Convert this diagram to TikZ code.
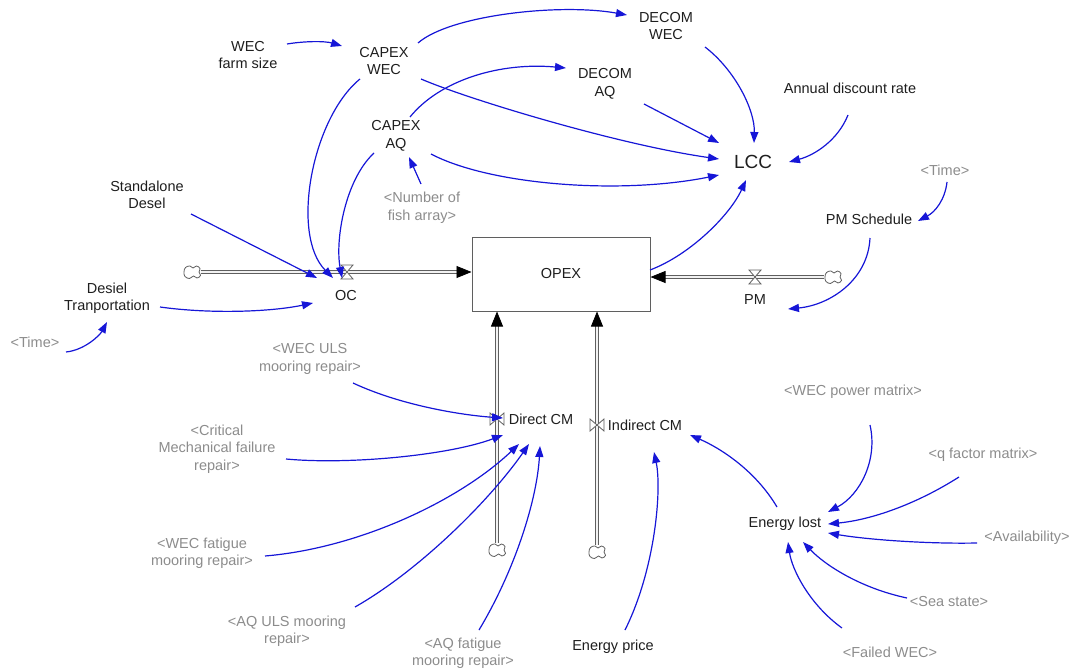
\documentclass[tikz,border=0pt]{standalone}
\usepackage{fontspec}
\setmainfont{Liberation Sans}
\usetikzlibrary{arrows.meta}
\definecolor{linkblue}{RGB}{22,22,215}
\definecolor{vartext}{RGB}{30,30,30}
\definecolor{shadowtext}{RGB}{140,140,140}
\definecolor{pipegray}{RGB}{95,95,95}
\begin{document}
\begin{tikzpicture}[x=1pt,y=-1pt,
  every node/.style={inner sep=0pt,font=\fontsize{14.5}{17.5}\selectfont,align=center},
  var/.style={text=vartext},
  shadow/.style={text=shadowtext},
  link/.style={draw=linkblue,line width=1.2pt,-{Triangle[length=11pt,width=8pt]}},
  pipe/.style={draw=pipegray,line width=0.8pt,double=gray!10,double distance=2.6pt},
  pipetip/.style={-{Triangle[length=15pt,width=12pt,color=black,fill=black]}},
  stockbox/.style={draw=pipegray,line width=1pt,minimum width=178pt,minimum height=74pt,text=vartext},
  source/.style={minimum width=17pt,minimum height=13pt},
  cloudmark/.pic={\draw[pipegray,line width=0.8pt,fill=white] plot[smooth cycle,tension=0.7] coordinates
     {(-8,0) (-6.5,-4.5) (-2,-6) (1,-4) (4.5,-6) (8,-3.5) (7,0) (8.5,3.5) (5,6) (1.5,4) (-2.5,6.5) (-7,4.5)};},
  valvehg/.pic={\draw[pipegray,line width=0.8pt,fill=white] (-6,-7)--(6,-7)--(-6,7)--(6,7)--cycle;},
  valvebt/.pic={\draw[pipegray,line width=0.8pt,fill=white] (-7,-6)--(-7,6)--(7,-6)--(7,6)--cycle;}
]
\useasboundingbox (0,0) rectangle (1074,669);

% ---------- variables ----------
\node[var] (farm) at (248,55) {WEC\\farm size};
\node[var] (capexwec) at (384,61) {CAPEX\\WEC};
\node[var] (decomwec) at (666,26) {DECOM\\WEC};
\node[var] (decomaq) at (605,84) {DECOM\\AQ};
\node[var] (capexaq) at (396,136) {CAPEX\\AQ};
\node[var] (annual) at (850,88) {Annual discount rate};
\node[var,font=\fontsize{19}{22}\selectfont] (lcc) at (753,162) {LCC};
\node[shadow] (timeR) at (945,170) {<Time>};
\node[var] (pmsched) at (869,219) {PM Schedule};
\node[shadow] (fish) at (422,208) {<Number of\\fish array>};
\node[var] (standalone) at (147,195) {Standalone\\Desel};
\node[stockbox] (opex) at (561,274) {OPEX};
\node[var] (oc) at (346,296) {OC};
\node[var] (desiel) at (107,298) {Desiel\\Tranportation};
\node[shadow] (timeL) at (35,342) {<Time>};
\node[var] (pm) at (755,300) {PM};
\node[shadow] (weculs) at (310,359) {<WEC ULS\\mooring repair>};
\node[var] (directcm) at (541,419) {Direct CM};
\node[var] (indirectcm) at (645,425) {Indirect CM};
\node[shadow] (critical) at (217,449) {<Critical\\Mechanical failure\\repair>};
\node[shadow] (wecpower) at (853,392) {<WEC power matrix>};
\node[shadow] (qfactor) at (983,455) {<q factor matrix>};
\node[var] (energylost) at (785,524) {Energy lost};
\node[shadow] (availability) at (1027,538) {<Availability>};
\node[shadow] (wecfatigue) at (202,553) {<WEC fatigue\\mooring repair>};
\node[shadow] (seastate) at (949,602) {<Sea state>};
\node[shadow] (aquls) at (287,631) {<AQ ULS mooring\\repair>};
\node[shadow] (aqfatigue) at (463,653) {<AQ fatigue\\mooring repair>};
\node[var] (energyprice) at (613,647) {Energy price};
\node[shadow] (failedwec) at (890,652) {<Failed WEC>};

% ---------- flows into OPEX ----------
\node[source] (srcoc) at (192,272) {};
\node[source] (srcpm) at (833,277) {};
\node[source] (srcd) at (497,550) {};
\node[source] (srci) at (597,552) {};
\draw[pipe,pipetip] (srcoc.east) -- (srcoc -| opex.west);
\draw[pipe,pipetip] (srcpm.west) -- (srcpm -| opex.east);
\draw[pipe,pipetip] (srcd.north) -- (srcd |- opex.south);
\draw[pipe,pipetip] (srci.north) -- (srci |- opex.south);
\pic at (srcoc) {cloudmark};
\pic at (srcpm) {cloudmark};
\pic at (srcd) {cloudmark};
\pic at (srci) {cloudmark};
\coordinate (voc) at (347,272);
\coordinate (vpm) at (755,277);
\coordinate (vd) at (497,419);
\coordinate (vi) at (597,425);
\pic at (voc) {valvehg};
\pic at (vpm) {valvehg};
\pic at (vd) {valvebt};
\pic at (vi) {valvebt};

% ---------- causal links ----------
\draw[link] ([shift={(39,-11)}]farm.center) .. controls +(18,-3) and +(-17,-5) .. ([shift={(-42,-15)}]capexwec.center);
\draw[link] ([shift={(34,-18)}]capexwec.center) .. controls +(32,-28) and +(-67,-12) .. ([shift={(-39,-11)}]decomwec.center);
\draw[link] ([shift={(37,18)}]capexwec.center) .. controls +(49,21) and +(-99,-14) .. ([shift={(-34,-3)}]lcc.center);
\draw[link] ([shift={(-24,18)}]capexwec.center) .. controls +(-48,39) and +(-43,-43) .. ([shift={(-13,-18)}]oc.center);
\draw[link] ([shift={(-22,17)}]capexaq.center) .. controls +(-29,27) and +(-7,-38) .. ([shift={(-4,-18)}]oc.center);
\draw[link] ([shift={(14,-19)}]capexaq.center) .. controls +(30,-37) and +(-66,-6) .. ([shift={(-39,-16)}]decomaq.center);
\draw[link] ([shift={(35,18)}]capexaq.center) .. controls +(59,31) and +(-99,20) .. ([shift={(-34,13)}]lcc.center);
\draw[link] ([shift={(39,20)}]decomaq.center) -- ([shift={(-34,-19)}]lcc.center);
\draw[link] ([shift={(39,21)}]decomwec.center) .. controls +(30,23) and +(1,-33) .. ([shift={(1,-19)}]lcc.center);
\draw[link] ([shift={(-2,27)}]annual.center) .. controls +(-10,25) and +(26,-7) .. ([shift={(36,0)}]lcc.center);
\draw[link] ([shift={(89,-4)}]opex.center) .. controls +(40,-15) and +(-16,35) .. ([shift={(-7,18)}]lcc.center);
\draw[link] ([shift={(2,12)}]timeR.center) .. controls +(-2,18) and +(17,-9) .. ([shift={(49,2)}]pmsched.center);
\draw[link] ([shift={(1,19)}]pmsched.center) .. controls +(-2,42) and +(42,-4) .. ([shift={(33,9)}]pm.center);
\draw[link] ([shift={(-1,-24)}]fish.center) -- ([shift={(13,21)}]capexaq.center);
\draw[link] ([shift={(44,19)}]standalone.center) -- ([shift={(-29,-18)}]oc.center);
\draw[link] ([shift={(53,9)}]desiel.center) .. controls +(50,7) and +(-43,9) .. ([shift={(-33,7)}]oc.center);
\draw[link] ([shift={(31,10)}]timeL.center) .. controls +(19,-2) and +(-7,13) .. ([shift={(0,24)}]desiel.center);
\draw[link] ([shift={(43,24)}]weculs.center) .. controls +(47,22) and +(-43,-3) .. ([shift={(-38,-1)}]directcm.center);
\draw[link] ([shift={(69,10)}]critical.center) .. controls +(64,6) and +(-53,20) .. ([shift={(-38,16)}]directcm.center);
\draw[link] ([shift={(63,3)}]wecfatigue.center) .. controls +(95,-8) and +(-59,56) .. ([shift={(-22,25)}]directcm.center);
\draw[link] ([shift={(68,-24)}]aquls.center) .. controls +(65,-37) and +(-39,56) .. ([shift={(-12,25)}]directcm.center);
\draw[link] ([shift={(16,-23)}]aqfatigue.center) .. controls +(36,-60) and +(-3,54) .. ([shift={(-1,27)}]directcm.center);
\draw[link] ([shift={(12,-17)}]energyprice.center) .. controls +(30,-60) and +(8,38) .. ([shift={(9,27)}]indirectcm.center);
\draw[link] ([shift={(-8,-17)}]energylost.center) .. controls +(-22,-37) and +(30,13) .. ([shift={(45,10)}]indirectcm.center);
\draw[link] ([shift={(17,33)}]wecpower.center) .. controls +(8,35) and +(32,-17) .. ([shift={(43,-12)}]energylost.center);
\draw[link] ([shift={(-24,22)}]qfactor.center) .. controls +(-44,28) and +(42,-4) .. ([shift={(43,0)}]energylost.center);
\draw[link] ([shift={(-50,5)}]availability.center) .. controls +(-47,1) and +(42,7) .. ([shift={(43,9)}]energylost.center);
\draw[link] ([shift={(-42,-4)}]seastate.center) .. controls +(-47,-10) and +(22,23) .. ([shift={(18,18)}]energylost.center);
\draw[link] ([shift={(-48,-24)}]failedwec.center) .. controls +(-32,-23) and +(4,28) .. ([shift={(3,18)}]energylost.center);
\end{tikzpicture}
\end{document}
